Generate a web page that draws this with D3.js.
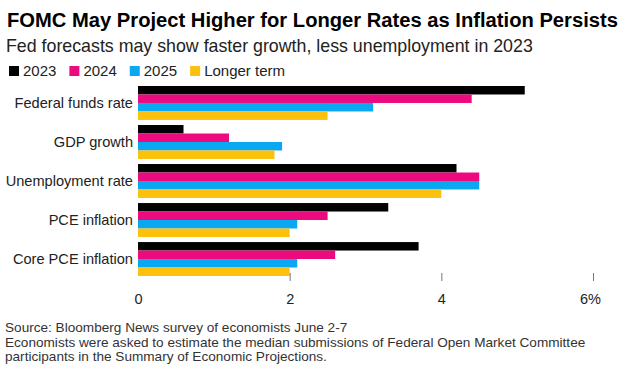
<!DOCTYPE html>
<html>
<head>
<meta charset="utf-8">
<script src="https://cdn.jsdelivr.net/npm/d3@7"></script>
<style>
  body { margin: 0; background: #fff; }
  text { font-family: "Liberation Sans", Arial, sans-serif; }
</style>
</head>
<body>
<div id="chart"></div>
<script>
const WIDTH = 626;
const HEIGHT = 377;

// data
const categories = ["Federal funds rate", "GDP growth", "Unemployment rate", "PCE inflation", "Core PCE inflation"];
const seriesNames = ["2023", "2024", "2025", "Longer term"];
const v2023 = [5.1, 0.6, 4.2, 3.3, 3.7];
const v2024 = [4.4, 1.2, 4.5, 2.5, 2.6];
const v2025 = [3.1, 1.9, 4.5, 2.1, 2.1];
const vLonger = [2.5, 1.8, 4.0, 2.0, 2.0];
const tickValues = [0, 2, 4, 6];
const colors = ["#000000", "#ec0a7f", "#0aa8f0", "#fbc10c"];

const allSeries = [v2023, v2024, v2025, vLonger];

const MARGIN = { TOP: 86, LEFT: 138 };

const svg = d3.select("#chart")
  .append("svg")
  .attr("width", WIDTH)
  .attr("height", HEIGHT);

// shrink/grow a text so it spans a given width
function fitWidth(sel, size, target) {
  sel.style("font-size", size + "px");
  const w = sel.node().getComputedTextLength();
  sel.style("font-size", (size * target / w).toFixed(2) + "px");
}

// title block
const title = svg.append("text")
  .attr("x", 7).attr("y", 27)
  .style("font-weight", "700")
  .style("fill", "#000")
  .text("FOMC May Project Higher for Longer Rates as Inflation Persists");
fitWidth(title, 20, 611);

const subtitle = svg.append("text")
  .attr("x", 6).attr("y", 52)
  .style("fill", "#222")
  .text("Fed forecasts may show faster growth, less unemployment in 2023");
fitWidth(subtitle, 17, 527);

// legend
const legend = svg.append("g").attr("transform", "translate(9, 65)");
let lx = 0;
seriesNames.forEach((name, i) => {
  const g = legend.append("g").attr("transform", `translate(${lx}, 0)`);
  g.append("rect").attr("width", 10).attr("height", 10).attr("y", 1).style("fill", colors[i]);
  const t = g.append("text")
    .attr("x", 14).attr("y", 11)
    .style("font-size", "15px")
    .style("fill", "#222")
    .text(name);
  lx += 14 + t.node().getComputedTextLength() + 13;
});

// scales
const x = d3.scaleLinear().domain([0, 6]).range([MARGIN.LEFT, 593]);
const y = d3.scaleBand().domain(categories).range([MARGIN.TOP, 276]).paddingInner(0.13).paddingOuter(0);
const ySub = d3.scaleBand().domain(seriesNames).range([0, y.bandwidth()]);

// bars
const groups = svg.selectAll("g.cat")
  .data(categories)
  .enter()
  .append("g")
  .attr("class", "cat")
  .attr("transform", (d) => `translate(0, ${y(d)})`);

groups.each(function (cat, ci) {
  d3.select(this)
    .selectAll("rect")
    .data(seriesNames)
    .enter()
    .append("rect")
    .attr("x", x(0))
    .attr("y", (s) => ySub(s))
    .attr("width", (s, si) => x(allSeries[si][ci]) - x(0))
    .attr("height", ySub.bandwidth())
    .style("fill", (s, si) => colors[si]);
});

// category labels
svg.selectAll("text.cat")
  .data(categories)
  .enter()
  .append("text")
  .attr("class", "cat")
  .attr("x", 133)
  .attr("y", (d) => y(d) + y.bandwidth() / 2 + 5)
  .style("text-anchor", "end")
  .style("font-size", "14.6px")
  .style("fill", "#222")
  .text((d) => d);

// x axis
const xAxis = svg.append("g")
  .attr("transform", "translate(0, 273)")
  .call(d3.axisBottom(x).tickValues(tickValues).tickSize(8).tickFormat((d) => d === 6 ? d + "%" : d))
  .call((g) => g.select(".domain").remove());

xAxis.selectAll(".tick line")
  .style("stroke", "#777")
  .style("stroke-width", 1)
  .style("display", (d) => d === 0 ? "none" : null);
xAxis.selectAll(".tick text")
  .attr("y", 21)
  .attr("dx", (d) => d === 6 ? -3 : 0)
  .style("font-size", "14.5px")
  .style("fill", "#222")
  .style("font-family", "Liberation Sans, Arial, sans-serif");

// footer
const notes = [
  "Source: Bloomberg News survey of economists June 2-7",
  "Economists were asked to estimate the median submissions of Federal Open Market Committee",
  "participants in the Summary of Economic Projections."
];
svg.selectAll("text.note")
  .data(notes)
  .enter()
  .append("text")
  .attr("class", "note")
  .attr("x", 5)
  .attr("y", (d, i) => 332 + i * 14.5)
  .style("font-size", "13.6px")
  .style("fill", "#333")
  .text((d) => d);
</script>
</body>
</html>
